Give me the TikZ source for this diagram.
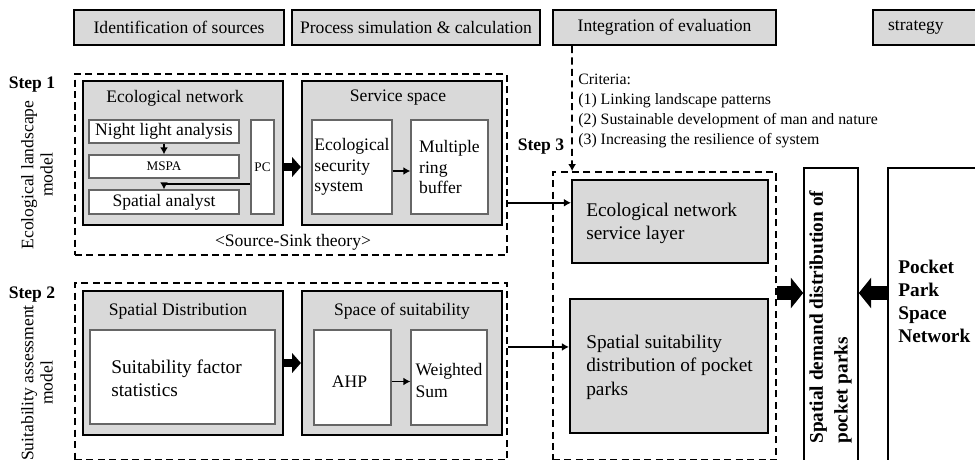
\documentclass[tikz,border=0pt]{standalone}
\usepackage{fontspec}
\setmainfont{Liberation Serif}
\usetikzlibrary{arrows.meta,fit,calc}
\definecolor{boxgray}{HTML}{D9D9D9}

\begin{document}
\begin{tikzpicture}[%
    x=0.02cm,y=-0.02cm,%
    font=\fontsize{10}{12}\selectfont,%
    headbox/.style={draw=black,line width=1.2pt,fill=boxgray,inner sep=0pt},%
    graybox/.style={draw=black,line width=1.2pt,fill=boxgray,inner sep=0pt},%
    whitebox/.style={draw=black!60,line width=0.7pt,fill=white,inner sep=0pt},%
    tallbox/.style={draw=black,line width=0.9pt,fill=white,inner sep=0pt},%
    stepbox/.style={draw=black,line width=1pt,dash pattern=on 4pt off 2.5pt,inner sep=0pt},%
    steplabel/.style={font=\fontsize{10}{12}\selectfont\bfseries},%
    sidelabel/.style={rotate=90,align=center,font=\fontsize{10}{11}\selectfont},%
    smalltext/.style={font=\fontsize{7.5}{9}\selectfont},%
    bigtext/.style={align=left,font=\fontsize{11}{13.3}\selectfont},%
    smallarrow/.style={line width=0.9pt,-{Latex[length=4pt,width=4.5pt]}},%
    bigarrow/.style={line width=5pt,-{Triangle[length=5pt,width=11pt]}},%
    hugearrow/.style={line width=8.5pt,-{Triangle[length=7pt,width=17pt]}},%
  ]%
  \useasboundingbox (0,0) rectangle (975,460);
  \clip (0,0) rectangle (975,460);

  % stage headers
  \node[headbox, fit={(74,10) (284,45)}] (idsrc) {};
  \node (idsrctxt) at (idsrc) {Identification of sources};
  \node[headbox, fit={(292,10) (540,45)}] (procsim) {};
  \node (procsimtxt) at (procsim) {Process simulation \& calculation};
  \node[headbox, fit={(553,10) (776,45)}] (integ) {};
  \node (integtxt) at (integ) {Integration of evaluation};
  \node[headbox, fit={(873,10) (1000,45)}] (strat) {};
  \node[anchor=west] (strattxt) at ($(strat.west)+(10,0)$) {strategy};

  % step 1
  \node[steplabel] (step1) at (32,85) {Step 1};
  \node[sidelabel] (step1side) at (37,175) {Ecological landscape\\model};
  \node[stepbox, fit={(75,74) (507,255)}] (step1box) {};
  \node[graybox, fit={(83,81) (283,225)}] (econet) {};
  \node (econettitle) at ($(econet.north)+(-8,18)$) {Ecological network};
  \node[whitebox, fit={(89,120) (239,143)}] (night) {};
  \node (nighttxt) at (night) {Night light analysis};
  \node[whitebox, fit={(89,155) (239,178)}] (mspa) {};
  \node[smalltext] (mspatxt) at (mspa) {MSPA};
  \node[whitebox, fit={(89,190) (239,214)}] (spatial) {};
  \node (spatialtxt) at (spatial) {Spatial analyst};
  \node[whitebox, fit={(251,120) (274,214)}] (pc) {};
  \node[smalltext] (pctxt) at (pc) {PC};
  \node[graybox, fit={(302,81) (502,225)}] (service) {};
  \node (servicetitle) at ($(service.north)+(-4,18)$) {Service space};
  \node[whitebox, fit={(312,120) (392,214)}] (ecosec) {};
  \node[align=left, font=\fontsize{10}{11.5}\selectfont] (ecosectxt) at (ecosec) {Ecological\\security\\system};
  \node[whitebox, fit={(411,120) (488,214)}] (multiring) {};
  \node[align=left, font=\fontsize{10}{11.7}\selectfont] (multiringtxt) at (multiring) {Multiple\\ring\\buffer};
  \node (sourcesink) at (293,242) {<Source-Sink theory>};

  \draw[smallarrow] (night) -- (mspa);
  \coordinate (pcgap) at ($(mspa.south)!0.5!(spatial.north)$);
  \draw[smallarrow] (pc.west |- pcgap) -| (spatial.north);
  \draw[bigarrow] (econet.east |- pc) -- (service.west |- pc);
  \draw[smallarrow] ([yshift=-0.08cm]ecosec.east) -- ([yshift=-0.08cm]multiring.west);

  % step 2
  \node[steplabel] (step2) at (32,295) {Step 2};
  \node[sidelabel] (step2side) at (37,383) {Suitability assessment\\model};
  \node[stepbox, fit={(75,283) (507,460)}] (step2box) {};
  \node[graybox, fit={(83,291) (283,435)}] (spdist) {};
  \node (spdisttitle) at ($(spdist.north)+(-5,21)$) {Spatial Distribution};
  \node[whitebox, fit={(90,330) (275,424)}] (sfstat) {};
  \node[bigtext] (sfstattxt) at ($(sfstat)+(-6,1)$) {Suitability factor\\statistics};
  \node[graybox, fit={(302,291) (502,435)}] (spsuit) {};
  \node (spsuittitle) at ($(spsuit.north)+(0,21)$) {Space of suitability};
  \node[whitebox, fit={(314,330) (391,425)}] (ahp) {};
  \node (ahptxt) at ($(ahp)+(-3,4)$) {AHP};
  \node[whitebox, fit={(411,330) (487,425)}] (wsum) {};
  \node[align=left, font=\fontsize{10}{12.5}\selectfont] (wsumtxt) at ($(wsum)+(0,3)$) {Weighted\\Sum};

  \draw[bigarrow] (spdist) -- (spsuit);
  \draw[smallarrow] ([yshift=-0.08cm]ahp.east) -- ([yshift=-0.08cm]wsum.west);

  % step 3
  \node[steplabel] (step3) at (541,147) {Step 3};
  \node[anchor=north west, align=left, inner sep=0pt, font=\fontsize{9}{11.3}\selectfont] (criteria) at (578,74)
    {Criteria:\\(1) Linking landscape patterns\\(2) Sustainable development of man and nature\\(3) Increasing the resilience of system};
  \node[stepbox, fit={(553,172) (776,460)}] (step3box) {};
  \node[graybox, fit={(572,180) (768,263)}] (eslayer) {};
  \node[bigtext, anchor=west, inner sep=0pt] (eslayertxt) at ($(eslayer.west)+(15,2)$) {Ecological network\\service layer};
  \node[graybox, fit={(570,299) (768,433)}] (sslayer) {};
  \node[bigtext, anchor=west, inner sep=0pt] (sslayertxt) at ($(sslayer.west)+(17,1)$) {Spatial suitability\\distribution of pocket\\parks};

  \draw[line width=1pt, dash pattern=on 4pt off 2.5pt, -{Latex[length=4pt,width=4.5pt]}]
    ([xshift=0.4cm]integ.south west) -- ([xshift=0.4cm]step3box.north west);
  \coordinate (eslink) at ($(eslayer.north west)!0.28!(eslayer.south west)$);
  \coordinate (sslink) at ($(sslayer.north west)!0.36!(sslayer.south west)$);
  \draw[smallarrow] (step1box.east |- eslink) -- (eslink);
  \draw[smallarrow] (step2box.east |- sslink) -- (sslink);

  % demand and network
  \node[tallbox, fit={(804,168) (858,475)}] (demand) {};
  \node[rotate=90, anchor=north west, align=left, inner sep=0pt, font=\fontsize{11}{14}\selectfont\bfseries] (demandtxt) at (809,444)
    {Spatial demand distribution of\\pocket parks};
  \node[tallbox, fit={(888,168) (1000,475)}] (pocket) {};
  \node[anchor=north west, align=left, inner sep=0pt, font=\fontsize{11}{13}\selectfont\bfseries] (pockettxt) at (898,260)
    {Pocket\\Park\\Space\\Network};

  \coordinate (joint) at (830,293);
  \draw[hugearrow] (step3box.east |- joint) -- (demand.west |- joint);
  \draw[hugearrow] (pocket.west |- joint) -- (demand.east |- joint);
\end{tikzpicture}
\end{document}
